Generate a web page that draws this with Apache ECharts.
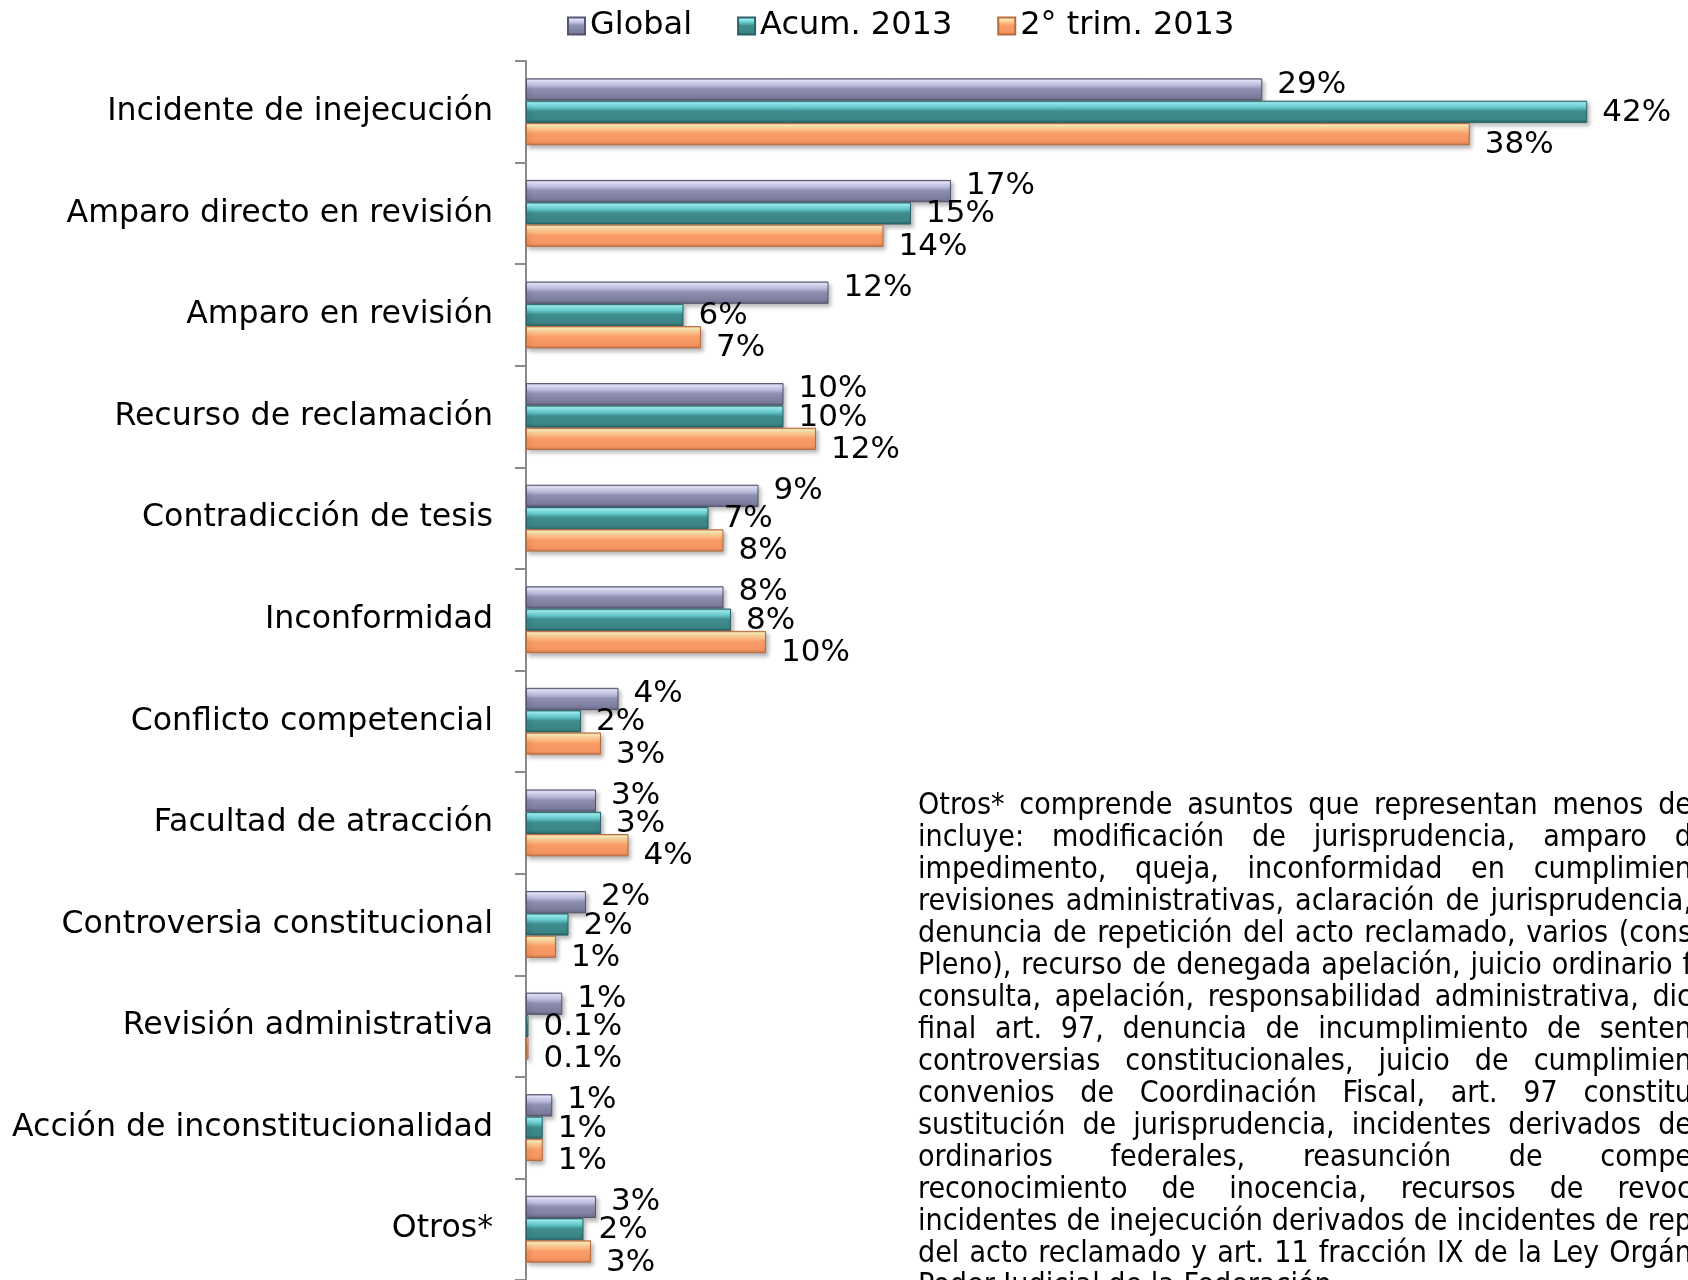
<!DOCTYPE html>
<html>
<head>
<meta charset="utf-8">
<script src="https://cdn.jsdelivr.net/npm/echarts@6/dist/echarts.min.js"></script>
<style>
html,body{margin:0;padding:0;background:#fff;}
#chart{width:1688px;height:1280px;}
</style>
</head>
<body>
<div id="chart"></div>
<script>
const categories = [
  'Incidente de inejecución',
  'Amparo directo en revisión',
  'Amparo en revisión',
  'Recurso de reclamación',
  'Contradicción de tesis',
  'Inconformidad',
  'Conflicto competencial',
  'Facultad de atracción',
  'Controversia constitucional',
  'Revisión administrativa',
  'Acción de inconstitucionalidad',
  'Otros*'
];
const seriesNames = ['Global', 'Acum. 2013', '2° trim. 2013'];
const globalVals = [29.45, 17.0, 12.1, 10.3, 9.3, 7.9, 3.7, 2.8, 2.4, 1.45, 1.05, 2.8];
const acumVals   = [42.45, 15.4, 6.3, 10.3, 7.3, 8.2, 2.2, 3.0, 1.7, 0.1, 0.67, 2.3];
const trimVals   = [37.75, 14.3, 7.0, 11.6, 7.9, 9.6, 3.0, 4.1, 1.2, 0.1, 0.67, 2.6];

const noteLines = [
  'Otros* comprende asuntos que representan menos de',
  'incluye: modificación de jurisprudencia, amparo d',
  'impedimento, queja, inconformidad en cumplimien',
  'revisiones administrativas, aclaración de jurisprudencia,',
  'denuncia de repetición del acto reclamado, varios (cons',
  'Pleno), recurso de denegada apelación, juicio ordinario f',
  'consulta, apelación, responsabilidad administrativa, dic',
  'final art. 97, denuncia de incumplimiento de senten',
  'controversias constitucionales, juicio de cumplimien',
  'convenios de Coordinación Fiscal, art. 97 constitu',
  'sustitución de jurisprudencia, incidentes derivados de',
  'ordinarios federales, reasunción de compe',
  'reconocimiento de inocencia, recursos de revoc',
  'incidentes de inejecución derivados de incidentes de rep',
  'del acto reclamado y art. 11 fracción IX de la Ley Orgán',
  'Poder Judicial de la Federación.'
];

const FONT = 'DejaVu Sans';
const NOTE_FONT_FAMILY = '"DejaVu Sans Condensed", "DejaVu Sans"';

function grad(stops) {
  return new echarts.graphic.LinearGradient(0, 0, 0, 1,
    stops.map((c) => ({ offset: c[0], color: c[1] })));
}
const styles = [
  { fill: grad([[0,'#8a8aa8'],[0.1,'#eaeaff'],[0.28,'#c6c6e8'],[0.48,'#8f8fb2'],[0.85,'#7c7c9c'],[1,'#5f5f7c']]), border: '#55556f', dy: -5 },
  { fill: grad([[0,'#3f8f90'],[0.1,'#a0f2f6'],[0.28,'#6cd2d6'],[0.48,'#3f8d8e'],[0.85,'#3a8485'],[1,'#2a6264']]), border: '#2d6365', dy: 1 },
  { fill: grad([[0,'#e09060'],[0.1,'#fff2bc'],[0.28,'#ffc890'],[0.48,'#f99d67'],[0.85,'#f59460'],[1,'#c87848']]), border: '#b86a40', dy: 11 }
];

function fmt(p) {
  const v = p.value;
  return (v < 0.5 ? v.toFixed(1) : Math.round(v)) + '%';
}

const seriesData = [globalVals, acumVals, trimVals];
const series = seriesData.map((vals, i) => ({
  name: seriesNames[i],
  type: 'bar',
  data: vals,
  barWidth: 22.3,
  barGap: '0%',
  itemStyle: {
    color: styles[i].fill,
    borderColor: styles[i].border,
    borderWidth: 1,
    shadowColor: 'rgba(0,0,0,0.28)',
    shadowBlur: 4,
    shadowOffsetX: 2,
    shadowOffsetY: 3
  },
  label: {
    show: true,
    position: 'right',
    distance: 15,
    offset: [0, styles[i].dy],
    formatter: fmt,
    color: '#000',
    fontFamily: FONT,
    fontSize: 31
  }
}));

// justified note text built from word measurements
const measureCtx = document.createElement('canvas').getContext('2d');
measureCtx.font = '27px ' + NOTE_FONT_FAMILY;
const refW = measureCtx.measureText(noteLines[3]).width;
const NOTE_SIZE = Math.max(24, Math.min(31, 27 * 764 / refW));
measureCtx.font = NOTE_SIZE + 'px ' + NOTE_FONT_FAMILY;
const noteX = 918, noteTop = 806, noteStep = 32, noteEnd = 1692;
const graphics = [];
noteLines.forEach((line, li) => {
  const y = noteTop + li * noteStep;
  const words = line.split(' ');
  const isLast = li === noteLines.length - 1;
  const widths = words.map(w => measureCtx.measureText(w).width);
  const spaceW = measureCtx.measureText(' ').width;
  let gap = spaceW;
  if (!isLast && words.length > 1) {
    const total = widths.reduce((a, b) => a + b, 0);
    gap = Math.max(spaceW * 0.8, (noteEnd - noteX - total) / (words.length - 1));
  }
  let x = noteX;
  words.forEach((w, wi) => {
    graphics.push({
      type: 'text',
      x: x, y: y,
      silent: true,
      style: {
        text: w,
        font: NOTE_SIZE + 'px ' + NOTE_FONT_FAMILY,
        fill: '#000',
        align: 'left',
        verticalAlign: 'middle'
      }
    });
    x += widths[wi] + gap;
  });
});

const chart = echarts.init(document.getElementById('chart'), null, { renderer: 'canvas' });
chart.setOption({
  animation: false,
  backgroundColor: '#fff',
  legend: {
    left: 562,
    top: 5,
    icon: 'rect',
    itemWidth: 17,
    itemHeight: 17,
    itemGap: 45,
    data: seriesNames,
    textStyle: { fontFamily: FONT, fontSize: 32, color: '#000' }
  },
  grid: { left: 526, top: 61, width: 1150, height: 1230.6 },
  xAxis: {
    type: 'value', min: 0, max: 46, show: false
  },
  yAxis: {
    type: 'category',
    data: categories,
    inverse: true,
    axisLine: { show: true, lineStyle: { color: '#8a8a8a', width: 2 } },
    axisTick: { show: true, length: 11, lineStyle: { color: '#8a8a8a', width: 2 } },
    axisLabel: { margin: 33, color: '#000', fontFamily: FONT, fontSize: 31.6, padding: [4, 0, 0, 0] }
  },
  series: series,
  graphic: graphics
});
</script>
</body>
</html>
